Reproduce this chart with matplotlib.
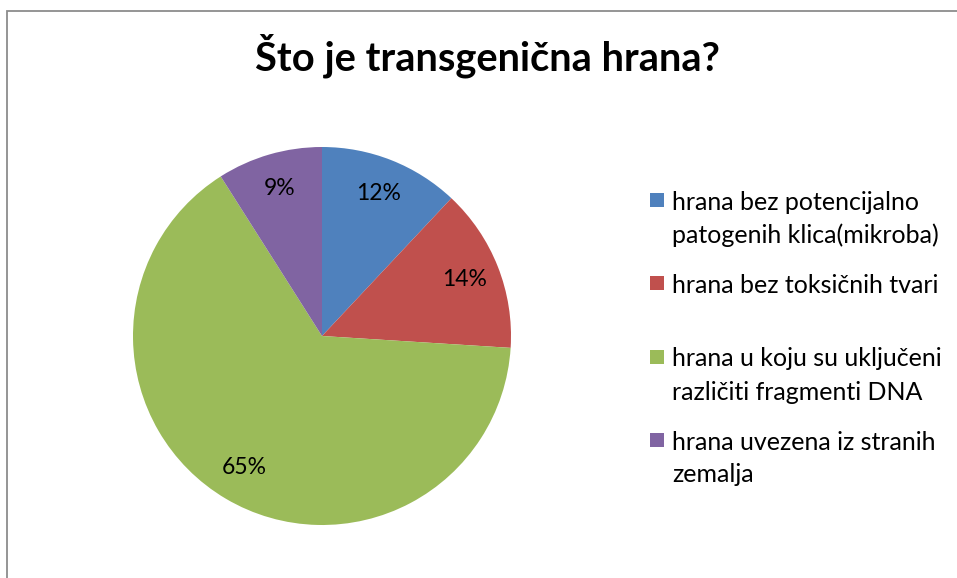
import matplotlib
matplotlib.use("Agg")
import matplotlib.pyplot as plt
from matplotlib.patches import Rectangle

title = "Što je transgenična hrana?"
categories = [
    "hrana bez potencijalno\npatogenih klica(mikroba)",
    "hrana bez toksičnih tvari",
    "hrana u koju su uključeni\nrazličiti fragmenti DNA",
    "hrana uvezena iz stranih\nzemalja",
]
values = [12, 14, 65, 9]
colors = ["#4F81BD", "#C0504D", "#9BBB59", "#8064A2"]

plt.rcParams["font.family"] = ["Lato", "DejaVu Sans"]

W, H = 957, 578
fig = plt.figure(figsize=(W / 100, H / 100), dpi=100)
fig.patch.set_facecolor("white")

# chart frame (only left and top edges fall inside the canvas)
fig.add_artist(Rectangle((7.5 / W, -0.05), 1.2, (H - 10.5) / H + 0.05,
                         transform=fig.transFigure, fill=False,
                         edgecolor="#8c8c8c", linewidth=1.3))

fig.text(487 / W, 1 - 70 / H, title, ha="center", va="baseline",
         fontsize=28.7, fontweight="bold", color="black")

# pie
cx, cy, r = 322, 336, 189
ax = fig.add_axes([(cx - r) / W, (H - cy - r) / H, 2 * r / W, 2 * r / H])
wedges, texts, autotexts = ax.pie(
    values, colors=colors, startangle=90, counterclock=False,
    autopct="%.0f%%", pctdistance=0.81, radius=1.0,
    wedgeprops=dict(linewidth=0),
    textprops=dict(fontsize=16.5, color="black"))
ax.set_xlim(-1, 1)
ax.set_ylim(-1, 1)
ax.set_aspect("equal")
ax.axis("off")

# legend
entry_y = [200, 283, 357, 440]
line_gap = 33
for wedge, label, y in zip(wedges, categories, entry_y):
    fig.add_artist(Rectangle((650 / W, 1 - (y + 7) / H), 14 / W, 14 / H,
                             transform=fig.transFigure,
                             facecolor=wedge.get_facecolor(), edgecolor="none"))
    for i, line in enumerate(label.split("\n")):
        fig.text(672 / W, 1 - (y + i * line_gap) / H, line, ha="left",
                 va="center_baseline", fontsize=18, color="black")

fig.savefig("out.png", dpi=100, facecolor="white")
